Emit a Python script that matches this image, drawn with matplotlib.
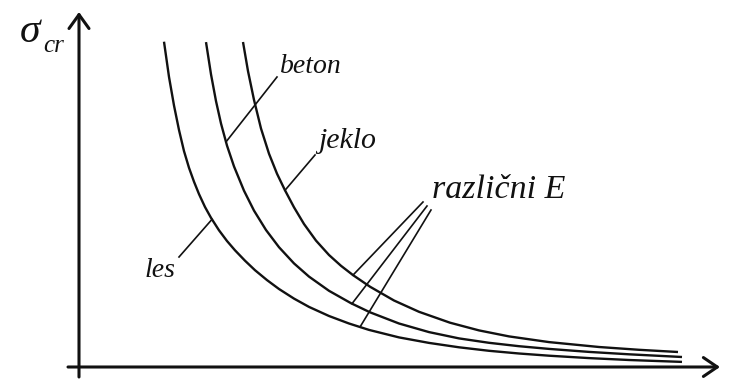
import numpy as np
import matplotlib
matplotlib.use("Agg")
import matplotlib.pyplot as plt

# Slenderness (lambda) and critical stress values (arbitrary units)
lam_les = [85, 90, 95, 100, 105, 110, 115, 120, 126, 132, 140, 148, 156, 166, 176, 188,
           200, 215, 230, 250, 270, 290, 320, 350, 380, 410, 440, 470, 510, 550, 603]
sig_les = [325.3, 290.1, 261.5, 237.0, 215.9, 199.2, 185.3, 172.9, 160.0, 149.2, 136.7,
           126.0, 116.7, 106.3, 96.8, 86.9, 78.0, 68.4, 60.1, 51.0, 43.5, 37.1, 29.6,
           24.1, 19.7, 16.2, 13.5, 11.3, 8.9, 7.0, 5.1]

lam_beton = [127, 132, 137, 142, 148, 155, 165, 175, 187, 200, 215, 230, 250, 272, 291,
             320, 350, 380, 410, 440, 470, 510, 550, 603]
sig_beton = [324.9, 292.7, 265.9, 243.5, 221.4, 200.6, 176.3, 156.4, 137.0, 119.8, 103.6,
             90.4, 76.2, 63.8, 54.7, 43.5, 34.9, 28.6, 24.2, 20.8, 18.1, 15.1, 12.7, 10.0]

lam_jeklo = [164, 169, 175, 182, 190, 198, 206, 215, 225, 237, 250, 262, 274, 291, 315,
             340, 371, 400, 430, 470, 520, 560, 599]
sig_jeklo = [325.0, 295.9, 267.1, 238.5, 213.3, 193.3, 176.7, 159.7, 143.0, 126.4, 112.0,
             101.2, 91.9, 80.3, 66.5, 55.2, 44.3, 36.6, 30.6, 24.9, 20.0, 17.2, 15.0]

labels = {"les": "les", "beton": "beton", "jeklo": "jeklo"}
common_label = "različni E"
y_label_main = "σ"
y_label_sub = "cr"

INK = "#111111"
FONT = dict(family="Liberation Serif", style="italic", color=INK)

fig = plt.figure(figsize=(7.4, 3.85), dpi=100)
ax = fig.add_axes([0, 0, 1, 1])
ax.set_xlim(-79, 661)
ax.set_ylim(-18, 367)
ax.axis("off")

# axes with open arrow heads
ax.annotate("", xy=(641, 0), xytext=(-11, 0),
            arrowprops=dict(arrowstyle="->,head_length=0.5,head_width=0.34",
                            lw=2.2, color=INK, shrinkA=0, shrinkB=0, mutation_scale=20))
ax.annotate("", xy=(0, 355), xytext=(0, -10),
            arrowprops=dict(arrowstyle="->,head_length=0.5,head_width=0.36",
                            lw=2.2, color=INK, shrinkA=0, shrinkB=0, mutation_scale=20))

# curves
for lam, sig in ((lam_les, sig_les), (lam_beton, sig_beton), (lam_jeklo, sig_jeklo)):
    ax.plot(lam, sig, color=INK, lw=1.7, solid_capstyle="butt", solid_joinstyle="round")

def leader(lx, lam, sig, end):
    p = (lx, float(np.interp(lx, lam, sig)))
    ax.plot([p[0], end[0]], [p[1], end[1]], color=INK, lw=1.2)

leader(147, lam_beton, sig_beton, (198, 290))
leader(206, lam_jeklo, sig_jeklo, (236, 212))
leader(133, lam_les, sig_les, (100, 110))
leader(274, lam_jeklo, sig_jeklo, (344, 165))
leader(273, lam_beton, sig_beton, (348, 161))
leader(281, lam_les, sig_les, (352, 157))

ax.text(201, 294, labels["beton"], fontsize=20, ha="left", va="baseline", **FONT)
ax.text(239, 219, labels["jeklo"], fontsize=21.5, ha="left", va="baseline", **FONT)
ax.text(66, 90, labels["les"], fontsize=20, ha="left", va="baseline", **FONT)
ax.text(353, 169, common_label, fontsize=24.5, ha="left", va="baseline", **FONT)

ax.text(-59, 325, y_label_main, fontsize=30, ha="left", va="baseline", **FONT)
ax.text(-36, 315, y_label_sub, fontsize=18, ha="left", va="baseline", **FONT)

fig.savefig("out.png", dpi=100)
